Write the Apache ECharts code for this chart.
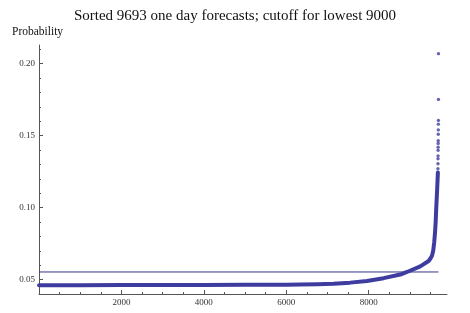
<!DOCTYPE html>
<html>
<head>
<meta charset="utf-8">
<script src="https://cdn.jsdelivr.net/npm/echarts@6/dist/echarts.min.js"></script>
<style>
  html, body { margin: 0; padding: 0; background: #fff; }
  #chart { width: 470px; height: 313px; }
</style>
</head>
<body>
<div id="chart"></div>
<script>
// ---- data ----
var titleText = 'Sorted 9693 one day forecasts; cutoff for lowest 9000';
var yName = 'Probability';

// dense body of the sorted forecasts (rank, probability)
var bodyRanks = [1, 1000, 2000, 3000, 4000, 5000, 6000, 6338, 6750, 7147, 7550, 7958, 8362, 8767, 8930, 9252, 9454, 9495, 9535, 9565, 9590, 9610, 9625, 9640, 9660, 9672, 9679];
var bodyProbs = [0.0460, 0.0461, 0.0462, 0.0462, 0.0463, 0.0464, 0.0465, 0.0466, 0.0468, 0.0472, 0.0479, 0.0490, 0.0510, 0.0535, 0.0553, 0.0592, 0.0629, 0.0645, 0.0665, 0.0700, 0.0760, 0.0830, 0.0900, 0.1004, 0.1120, 0.1200, 0.1245];

// individually visible top forecasts
var tailRanks = [9680, 9681, 9682, 9683, 9684, 9685, 9686, 9687, 9688, 9689, 9690, 9691, 9692, 9693];
var tailProbs = [0.1270, 0.1305, 0.1340, 0.1360, 0.1398, 0.1420, 0.1446, 0.1465, 0.1510, 0.1540, 0.1580, 0.1606, 0.1752, 0.2070];

// cutoff line (value of the 9000th forecast, drawn across all ranks)
var cutoffRanks = [0, 9693];
var cutoffValue = 0.0553;

// tick labels
var xMajorTicks = [2000, 4000, 6000, 8000];
var yMajorTicks = [0.05, 0.10, 0.15, 0.20];

// ---- build ----
function zip(a, b) { return a.map(function (v, i) { return [v, b[i]]; }); }
var xMinor = []; for (var i = 500; i < 9900; i += 500) { if (i % 2000) xMinor.push(i); }
var yMinor = []; for (var k = 5; k <= 21; k++) { if (k % 5) yMinor.push(k / 100); }

var serif = '"Liberation Serif", "DejaVu Serif", serif';
var axisCol = '#555';
var xRange = { min: 0, max: 9900 };
var yRange = { min: 0.04, max: 0.213 };

function xAxisDef(ticks, len, showLine, showLabel) {
  return {
    type: 'value', gridIndex: 0, min: xRange.min, max: xRange.max, position: 'bottom',
    axisLine: { show: showLine, onZero: false, lineStyle: { color: axisCol, width: 1 } },
    axisTick: { show: true, inside: true, length: len, customValues: ticks, lineStyle: { color: axisCol } },
    axisLabel: { show: showLabel, customValues: ticks, margin: 4, fontFamily: serif, fontSize: 9, color: '#333',
      formatter: function (v) { return String(v); } },
    splitLine: { show: false }
  };
}
function yAxisDef(ticks, len, showLine, showLabel) {
  return {
    type: 'value', gridIndex: 0, min: yRange.min, max: yRange.max, position: 'left',
    axisLine: { show: showLine, onZero: false, lineStyle: { color: axisCol, width: 1 } },
    axisTick: { show: true, inside: true, length: len, customValues: ticks, lineStyle: { color: axisCol } },
    axisLabel: { show: showLabel, customValues: ticks, margin: 4, fontFamily: serif, fontSize: 9, color: '#333',
      formatter: function (v) { return v.toFixed(2); } },
    splitLine: { show: false }
  };
}

var chart = echarts.init(document.getElementById('chart'), null, { renderer: 'canvas' });
chart.setOption({
  animation: false,
  backgroundColor: '#fff',
  title: [
    { text: titleText, left: 'center', top: 4,
      textStyle: { fontFamily: serif, fontSize: 15, fontWeight: 'normal', color: '#111' } },
    { text: yName, left: 7, top: 21,
      textStyle: { fontFamily: serif, fontSize: 11.5, fontWeight: 'normal', color: '#111' } }
  ],
  grid: { left: 39, right: 23, top: 45, bottom: 19, containLabel: false },
  xAxis: [ xAxisDef(xMajorTicks, 4, true, true), xAxisDef(xMinor, 2, false, false) ],
  yAxis: [ yAxisDef(yMajorTicks, 4, true, true), yAxisDef(yMinor, 2, false, false) ],
  series: [
    { type: 'line', xAxisIndex: 0, yAxisIndex: 0, data: zip(cutoffRanks, [cutoffValue, cutoffValue]),
      symbol: 'none', lineStyle: { color: '#33338a', width: 1 }, z: 2, silent: true },
    { type: 'line', xAxisIndex: 0, yAxisIndex: 0, data: zip(bodyRanks, bodyProbs),
      symbol: 'none', lineStyle: { color: '#3f3ca0', width: 4, cap: 'round', join: 'round' }, z: 3, silent: true },
    { type: 'scatter', xAxisIndex: 0, yAxisIndex: 0, data: zip(tailRanks, tailProbs),
      symbol: 'circle', symbolSize: 3.4, itemStyle: { color: '#3f3ca0' }, z: 4, silent: true }
  ]
});
</script>
</body>
</html>
